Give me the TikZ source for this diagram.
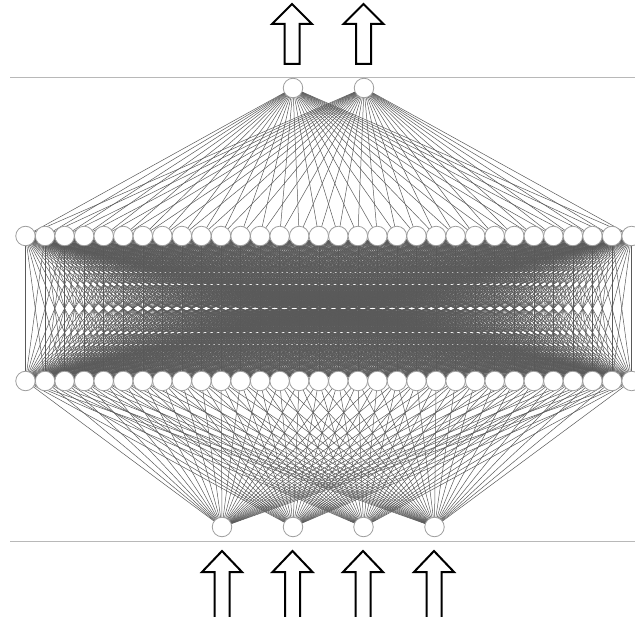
\documentclass[tikz,border=0pt]{standalone}
\usetikzlibrary{backgrounds}
\begin{document}
\begin{tikzpicture}[x=1pt,y=-1pt,
  neuron/.style={circle,draw=black!38,fill=white,line width=0.8pt,minimum size=19.5pt,inner sep=0pt},
  conn/.style={draw=black!65,line width=0.5pt},
  rule/.style={draw=black!28,line width=0.9pt},
  bigarrow/.style={draw=black,line width=2pt,fill=white,line join=miter}]
\clip (0,0) rectangle (635,617);
% rules
\draw[rule] (10,77) -- (635,77);
\draw[rule] (10,541) -- (635,541);
% hidden layers
\foreach \i in {1,...,32}{
  \pgfmathsetmacro{\xx}{25.5+(\i-1)*19.55}
  \node[neuron] (a\i) at (\xx,236) {};
  \node[neuron] (b\i) at (\xx,381) {};
}
% inputs
\foreach \i/\xx in {1/222,2/293,3/363.5,4/434.5}{
  \node[neuron] (in\i) at (\xx,527) {};
}
% outputs
\foreach \i/\xx in {1/293,2/364}{
  \node[neuron] (out\i) at (\xx,88) {};
}
\begin{scope}[on background layer]
  \foreach \i in {1,...,32}{
    \foreach \j in {1,...,32}{ \draw[conn] (a\i.center) -- (b\j.center); }
    \foreach \k in {1,...,4}{ \draw[conn] (b\i.center) -- (in\k.center); }
    \foreach \k in {1,2}{ \draw[conn] (a\i.center) -- (out\k.center); }
  }
\end{scope}
% arrows
\foreach \c in {292,363.5}{
  \draw[bigarrow] (\c,4) -- (\c+20,24) -- (\c+7.5,24) -- (\c+7.5,64) -- (\c-7.5,64) -- (\c-7.5,24) -- (\c-20,24) -- cycle;
}
\foreach \c in {222,292.5,363,434}{
  \draw[bigarrow] (\c,551) -- (\c+20,572) -- (\c+7.5,572) -- (\c+7.5,630) -- (\c-7.5,630) -- (\c-7.5,572) -- (\c-20,572) -- cycle;
}
\end{tikzpicture}
\end{document}
